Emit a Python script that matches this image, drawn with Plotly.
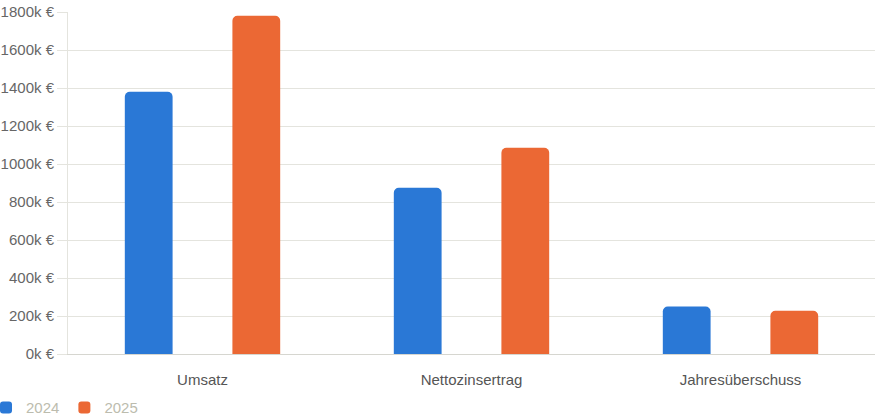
import plotly.graph_objects as go

categories = ["Umsatz", "Nettozinsertrag", "Jahresüberschuss"]
series_names = ["2024", "2025"]
values_2024 = [1380, 875, 250]
values_2025 = [1780, 1085, 228]
colors = ["#2a78d6", "#eb6834"]
tick_vals = [0, 200, 400, 600, 800, 1000, 1200, 1400, 1600, 1800]
tick_text = [f"{v}k €" for v in tick_vals]

fig = go.Figure()
for name, vals, col in zip(series_names, [values_2024, values_2025], colors):
    fig.add_trace(go.Bar(x=categories, y=vals, name=name, marker_color=col,
                         marker_line_width=0))

fig.update_layout(
    width=875, height=417,
    margin=dict(l=68, r=0, t=12, b=63, autoexpand=False),
    paper_bgcolor="white", plot_bgcolor="white",
    barmode="group", bargap=0.2, bargroupgap=0.556,
    barcornerradius=5,
    font=dict(family="Liberation Sans, Arial, sans-serif", size=14, color="#666"),
    showlegend=True,
    legend=dict(orientation="h", xref="paper", yref="container",
                x=-0.1016, xanchor="left", y=0.022, yanchor="middle",
                font=dict(size=15, color="#bcbcae"),
                tracegroupgap=0),
    xaxis=dict(showgrid=False, showline=True, linecolor="#d6d6d0", linewidth=1,
               ticks="outside", ticklen=12, tickcolor="rgba(0,0,0,0)",
               automargin=False,
               tickfont=dict(color="#555", size=15)),
    yaxis=dict(range=[0, 1800], tickvals=tick_vals, ticktext=tick_text,
               showgrid=True, gridcolor="#e4e4de", gridwidth=1,
               showline=True, linecolor="#e4e4de", linewidth=1,
               ticks="outside", ticklen=10, tickcolor="#e4e4de",
               automargin=False,
               zeroline=False, tickfont=dict(color="#666", size=15)),
)

fig.write_html("out.html")
